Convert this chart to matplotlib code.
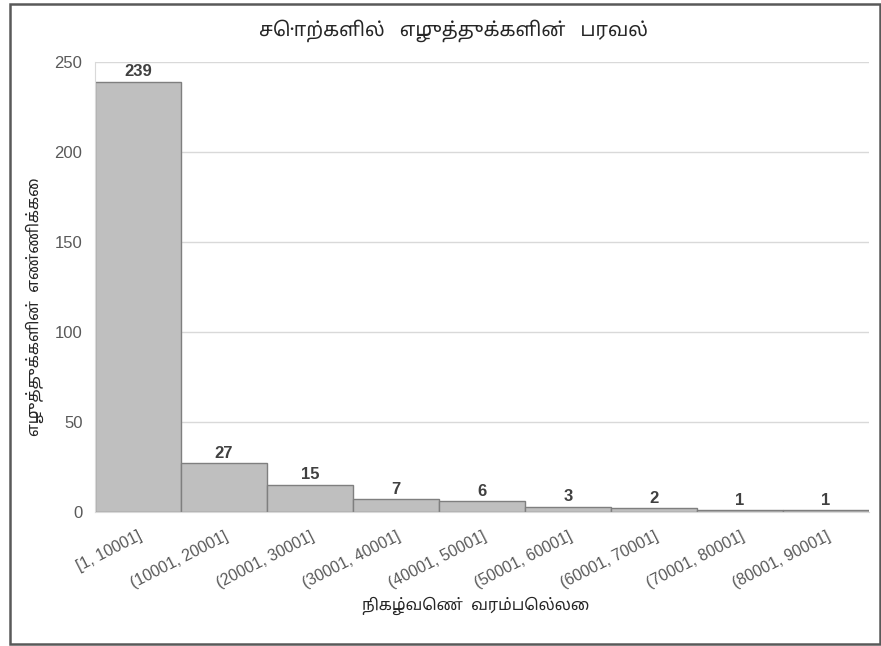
import matplotlib.pyplot as plt
from matplotlib.patches import Rectangle

# தரவு
bins = ['[1, 10001]', '(10001, 20001]', '(20001, 30001]', '(30001, 40001]',
        '(40001, 50001]', '(50001, 60001]', '(60001, 70001]', '(70001, 80001]',
        '(80001, 90001]']
counts = [239, 27, 15, 7, 6, 3, 2, 1, 1]
yticks = [0, 50, 100, 150, 200, 250]

title = 'சொற்களில்   எழுத்துக்களின்   பரவல்'
xlabel = 'நிகழ்வெண்  வரம்பெல்லை'
ylabel = 'எழுத்துக்களின்  எண்ணிக்கை'

tamil = ['Noto Sans Tamil', 'Lohit Tamil', 'Latha', 'Noto Sans', 'DejaVu Sans']
plt.rcParams['font.family'] = ['Liberation Sans', 'DejaVu Sans']

fig = plt.figure(figsize=(8.81, 6.46), dpi=100)
ax = fig.add_axes([0.1078, 0.2074, 0.8786, 0.6966])

x = list(range(len(counts)))
ax.bar(x, counts, width=1.0, color='#bfbfbf', edgecolor='#7f7f7f', linewidth=1.0, zorder=2)

# மதிப்பு குறிப்புகள்
for xi, c in zip(x, counts):
    ax.text(xi, c + 1.5, str(c), ha='center', va='bottom', fontsize=12,
            fontweight='bold', color='#404040')

ax.set_xlim(-0.5, len(counts) - 0.5)
ax.set_ylim(0, 250)
ax.set_yticks(yticks)
ax.set_xticks(x)
ax.set_xticklabels(bins, rotation=27, ha='right', rotation_mode='anchor',
                   fontsize=11.5, color='#595959')
ax.tick_params(axis='y', labelsize=12, labelcolor='#595959', length=0, pad=9)
ax.tick_params(axis='x', length=0, pad=12)
ax.grid(axis='y', color='#d9d9d9', linewidth=1, zorder=0)
for s in ['top', 'right']:
    ax.spines[s].set_visible(False)
ax.spines['left'].set_color('#d9d9d9')
ax.spines['bottom'].set_color('#d9d9d9')

fig.text(0.515, 0.952, title, ha='center', va='center', fontsize=14,
         color='#262626', family=tamil)
fig.text(0.540, 0.062, xlabel, ha='center', va='center', fontsize=11.5,
         color='#262626', family=tamil)
fig.text(0.040, 0.525, ylabel, ha='center', va='center', rotation=90,
         fontsize=11.5, color='#262626', family=tamil)

# வெளிச் சட்டம்
fig.patches.append(Rectangle((0.0108, 0.0031), 0.988, 0.9907, transform=fig.transFigure,
                             fill=False, edgecolor='#595959', linewidth=1.8))

fig.savefig('out.png', dpi=100)
